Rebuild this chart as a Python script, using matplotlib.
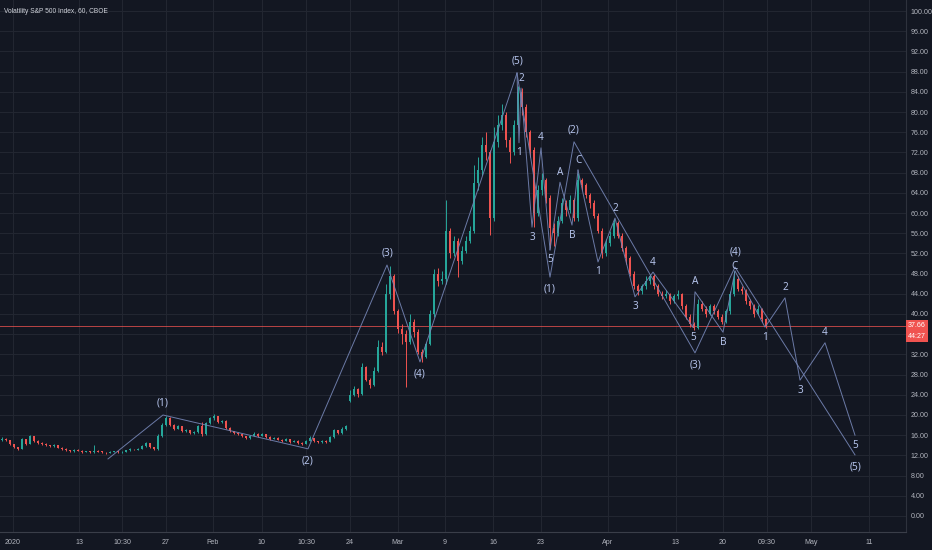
import matplotlib
matplotlib.use("Agg")
import matplotlib.pyplot as plt
import matplotlib.transforms as mtransforms
import numpy as np

# VIX hourly candles, 2020 (one entry per drawn candle)
closes = [15.3, 15.0, 14.2, 13.6, 13.3, 15.2, 14.3, 15.8, 14.9, 14.5,
          14.2, 14.0, 13.8, 14.0, 13.5, 13.3, 13.0, 12.8, 13.1, 12.9,
          12.7, 12.8, 12.6, 12.9, 12.7, 12.6, 12.5, 12.7, 12.8, 12.6,
          12.7, 13.0, 13.2, 13.1, 13.3, 13.8, 14.4, 13.6, 13.2, 15.8,
          18.0, 19.5, 18.0, 17.3, 17.8, 16.8, 17.0, 16.4, 16.6, 17.8,
          16.2, 18.4, 19.4, 19.8, 18.6, 18.9, 17.5, 16.8, 16.5, 16.2,
          15.8, 15.4, 15.9, 16.3, 15.9, 16.2, 15.7, 15.3, 15.5, 15.1,
          14.9, 15.2, 14.7, 14.9, 14.5, 14.3, 14.9, 15.4, 14.8, 14.6,
          14.9, 14.7, 15.6, 17.0, 16.4, 17.3, 17.8, 24.0, 25.2, 24.2,
          29.5, 27.0, 26.0, 28.8, 33.5, 32.5, 44.0, 47.5, 40.5, 37.0,
          36.0, 34.5, 38.5, 36.5, 32.5, 31.5, 34.0, 40.0, 48.0, 46.5,
          47.0, 56.5, 52.0, 54.5, 50.5, 52.5, 54.5, 56.5, 66.0, 68.5,
          73.5, 72.0, 59.0, 74.0, 77.5, 79.5, 74.5, 72.0, 77.5, 84.0,
          81.0, 76.0, 72.5, 60.0, 64.5, 66.5, 63.0, 57.0, 56.0, 58.5,
          62.0, 60.5, 62.5, 59.0, 66.5, 65.5, 63.5, 62.0, 59.5, 56.5,
          52.0, 54.0, 55.5, 58.0, 55.5, 53.0, 51.0, 48.0, 45.5, 44.5,
          45.5, 46.5, 47.5, 45.5, 44.0, 43.5, 44.0, 42.5, 43.5, 44.0,
          41.5, 39.5, 38.0, 37.3, 42.0, 41.0, 40.0, 41.5, 40.5, 39.5,
          38.5, 40.5, 44.0, 47.0, 45.0, 44.5, 42.5, 41.5, 40.0, 41.0,
          39.0, 37.66]
highs = [15.6, 15.5, 15.1, 14.3, 13.7, 15.5, 15.3, 16.1, 15.9, 15.0,
         14.6, 14.4, 14.1, 14.2, 14.1, 13.6, 13.4, 13.1, 13.3, 13.2,
         13.0, 12.9, 12.9, 14.0, 13.0, 12.8, 12.7, 12.8, 12.9, 12.9,
         12.8, 13.1, 13.4, 13.3, 13.5, 14.0, 14.6, 14.5, 13.7, 16.2,
         18.4, 19.9, 19.6, 18.2, 18.1, 17.9, 17.2, 17.1, 16.8, 18.1,
         18.6, 18.7, 19.7, 20.2, 19.9, 19.1, 19.0, 17.6, 16.9, 16.6,
         16.3, 15.9, 16.1, 16.6, 16.4, 16.4, 16.3, 15.8, 15.7, 15.6,
         15.2, 15.4, 15.3, 15.1, 15.0, 14.6, 15.1, 15.8, 15.5, 14.9,
         15.1, 15.0, 15.8, 17.3, 17.1, 17.6, 18.1, 25.0, 25.8, 25.4,
         30.2, 29.8, 27.3, 29.5, 34.9, 34.5, 46.0, 49.5, 48.0, 41.0,
         38.0, 36.8, 40.0, 39.0, 37.0, 33.0, 34.5, 40.8, 49.0, 49.2,
         48.5, 62.5, 57.0, 55.5, 55.0, 53.5, 55.5, 57.5, 69.5, 71.0,
         75.0, 76.0, 72.5, 77.0, 79.5, 81.5, 80.0, 75.0, 78.5, 85.2,
         84.8, 81.5, 76.5, 73.0, 65.5, 68.0, 67.0, 63.5, 58.0, 59.5,
         63.0, 62.5, 63.5, 63.0, 68.0, 67.0, 66.0, 64.0, 62.5, 60.0,
         57.0, 54.8, 56.5, 58.8, 58.5, 56.0, 53.5, 51.5, 48.5, 46.0,
         46.0, 47.5, 48.0, 48.0, 46.0, 44.5, 44.8, 44.2, 44.0, 44.8,
         44.2, 42.0, 40.0, 38.5, 43.0, 42.5, 41.5, 42.0, 42.0, 41.0,
         40.0, 41.0, 44.5, 48.5, 47.5, 45.5, 45.0, 43.0, 42.0, 41.8,
         41.2, 39.3]
lows = [14.8, 14.8, 14.0, 13.4, 13.1, 13.2, 14.1, 14.2, 14.7, 14.3,
        14.0, 13.8, 13.6, 13.7, 13.4, 13.1, 12.9, 12.6, 12.7, 12.8,
        12.5, 12.6, 12.4, 12.5, 12.6, 12.4, 12.3, 12.4, 12.6, 12.5,
        12.5, 12.6, 12.9, 13.0, 13.0, 13.2, 13.7, 13.4, 13.0, 13.1,
        15.6, 17.8, 17.8, 17.0, 17.2, 16.6, 16.6, 16.2, 16.3, 16.5,
        15.8, 16.1, 18.2, 19.1, 18.4, 18.4, 17.3, 16.6, 16.3, 16.0,
        15.6, 15.3, 15.3, 15.8, 15.7, 15.8, 15.5, 15.1, 15.2, 15.0,
        14.7, 14.8, 14.5, 14.6, 14.3, 14.1, 14.2, 14.8, 14.6, 14.4,
        14.5, 14.5, 14.6, 15.5, 16.2, 16.3, 17.1, 22.5, 23.8, 23.5,
        24.0, 26.7, 25.4, 25.8, 28.5, 31.8, 32.2, 43.0, 40.0, 36.2,
        34.0, 25.5, 34.0, 35.5, 32.0, 30.5, 31.2, 33.8, 39.5, 45.5,
        46.0, 46.0, 51.0, 51.5, 47.3, 50.0, 52.0, 54.0, 56.0, 64.5,
        67.5, 70.5, 55.6, 58.5, 73.0, 76.5, 73.0, 70.0, 71.5, 77.0,
        79.5, 75.0, 71.0, 57.2, 59.5, 63.5, 62.0, 53.0, 53.5, 55.5,
        58.0, 59.5, 60.0, 58.5, 58.5, 64.5, 63.0, 61.0, 59.0, 56.0,
        51.0, 51.5, 53.5, 55.0, 55.0, 52.5, 50.0, 47.5, 45.0, 43.8,
        44.0, 45.0, 46.0, 45.0, 43.5, 43.0, 43.2, 42.0, 42.2, 43.0,
        41.0, 39.0, 37.5, 36.8, 37.0, 40.5, 39.5, 39.8, 40.0, 39.0,
        38.0, 38.2, 40.0, 43.5, 44.5, 44.0, 42.0, 41.0, 39.5, 39.8,
        38.5, 37.3]
first_open = 15.0
gap_opens = {87: 22.8}   # Monday 24 Feb opened with a gap
last_price = 37.66
countdown = "44:27"

# time axis (bar positions of the date labels)
tick_pos = [2.75, 19.25, 30, 41, 52.75, 65, 76, 87, 99, 110.75, 122.75,
            134.75, 151.5, 168.5, 180.25, 191.25, 202.25, 216.75]
tick_txt = ["2020", "13", "10:30", "27", "Feb", "10", "10:30", "24", "Mar",
            "9", "16", "23", "Apr", "13", "20", "09:30", "May", "11"]

# Elliott wave drawings: (bar, price)
primary1_x = [26.5, 40.25, 76.5, 96.25, 104.5, 128.75]
primary1_y = [11.3, 20.0, 13.3, 49.7, 30.5, 87.7]
primary2_x = [128.75, 137.0, 143.0, 173.25, 183.25, 213.25]
primary2_y = [87.7, 47.3, 74.1, 32.3, 49.3, 12.1]
primary_lbl = ["", "(1)", "(2)", "(3)", "(4)", "(5)"]

sub_a_x = [128.75, 129.25, 129.75, 132.5, 134.75, 137.0]
sub_a_y = [87.7, 73.9, 84.75, 57.2, 72.9, 52.7]
sub_b_x = [144.0, 149.0, 153.25, 158.25, 162.75, 172.75]
sub_b_y = [68.5, 50.3, 59.0, 43.4, 48.3, 37.4]
sub_c_x = [183.25, 190.75, 195.75, 199.5, 205.75, 213.25]
sub_c_y = [48.5, 37.4, 43.2, 26.9, 34.3, 16.0]
impulse_lbl = ["", "1", "2", "3", "4", "5"]

abc1_x = [137.0, 139.5, 142.5, 144.0]
abc1_y = [52.7, 66.1, 57.6, 68.5]
abc2_x = [172.75, 173.25, 180.25, 183.25]
abc2_y = [37.4, 44.4, 36.4, 48.5]
abc_lbl = ["", "A", "B", "C"]

BG = "#131722"
GRID = "#222631"
TXT = "#b2b5be"
UP = "#26a69a"
DOWN = "#ef5350"
WAVE = "#7585b5"
WAVE_TXT = "#b4c2ea"
SMALL = "Liberation Sans"

fig = plt.figure(figsize=(9.32, 5.5), dpi=100, facecolor=BG)
ax = fig.add_axes([0, 18 / 550, 906 / 932, 532 / 550], facecolor=BG)

# candles
opens = [first_open] + closes[:-1]
for k, v in gap_opens.items():
    opens[k] = v
idx = np.arange(len(closes))
o = np.array(opens)
c = np.array(closes)
col = np.where(c >= o, UP, DOWN)
ax.vlines(idx, lows, highs, colors=col, linewidth=0.7, zorder=3)
body = np.where(np.abs(c - o) < 0.15, 0.15, c - o)
ax.bar(idx, body, bottom=o, width=0.62, color=col, linewidth=0, zorder=4)

# last price line
ax.axhline(last_price, color=DOWN, linewidth=0.7, alpha=0.75, zorder=2)


def draw_wave(xs, ys, labels, off, special=None):
    ax.plot(xs, ys, color=WAVE, linewidth=0.7, alpha=0.9, zorder=5)
    for i in range(1, len(xs)):
        if not labels[i]:
            continue
        d = off
        if special and i in special:
            d = special[i]
        up = ys[i] > ys[i - 1]
        ax.annotate(labels[i], (xs[i], ys[i]), xytext=(0, d if up else -d),
                    textcoords="offset pixels", ha="center", va="center",
                    color=WAVE_TXT, fontsize=7.2, family="Noto Sans", zorder=6)


draw_wave(primary1_x, primary1_y, primary_lbl, 12)
draw_wave(primary2_x, primary2_y, primary_lbl, 12, {4: 15})
draw_wave(sub_a_x, sub_a_y, impulse_lbl, 10)
draw_wave(sub_b_x, sub_b_y, impulse_lbl, 10)
draw_wave(sub_c_x, sub_c_y, impulse_lbl, 10)
draw_wave(abc1_x, abc1_y, abc_lbl, 10)
draw_wave(abc2_x, abc2_y, abc_lbl, 10, {3: 5})

# axes styling
yt = np.arange(0, 101, 4)
ax.set_xlim(-0.5, 226)
ax.set_ylim(-3.17, 102.18)
ax.set_yticks(yt)
# the 36.00 label sits under the last-price markers
ax.set_yticklabels(["" if v == 36 else "%.2f" % v for v in yt])
ax.set_xticks(tick_pos)
ax.set_xticklabels(tick_txt)
ax.yaxis.tick_right()
ax.tick_params(axis="y", length=0, pad=3.5, labelsize=5.1, colors=TXT)
ax.tick_params(axis="x", length=0, pad=5, labelsize=5.1, colors=TXT)
for lab in ax.get_xticklabels() + ax.get_yticklabels():
    lab.set_family(SMALL)
ax.grid(True, color=GRID, linewidth=0.8)
ax.set_axisbelow(True)
for s in ["top", "left"]:
    ax.spines[s].set_visible(False)
ax.spines["right"].set_color("#2e323d")
ax.spines["bottom"].set_color("#3a3e49")
ax.spines["right"].set_linewidth(0.8)
ax.spines["bottom"].set_linewidth(0.8)

# price scale markers
tr = mtransforms.blended_transform_factory(ax.transAxes, ax.transData)
box = dict(boxstyle="square,pad=0.3", fc="#f05350", ec="none")
ax.text(1.002, last_price, "%.2f" % last_price, transform=tr, ha="left", va="center",
        fontsize=5.1, family=SMALL, color="white", clip_on=False, zorder=7, bbox=box)
ax.annotate(countdown, (1.002, last_price), xycoords=tr, xytext=(0, -11),
            textcoords="offset pixels", ha="left", va="center", fontsize=5.1,
            family=SMALL, color="white", annotation_clip=False, zorder=7, bbox=box)

ax.text(0.004, 0.985, "Volatility S&P 500 Index, 60, CBOE", transform=ax.transAxes,
        ha="left", va="top", fontsize=4.8, family=SMALL, color="#d1d4dc")

fig.savefig("out.png", dpi=100, facecolor=BG)
